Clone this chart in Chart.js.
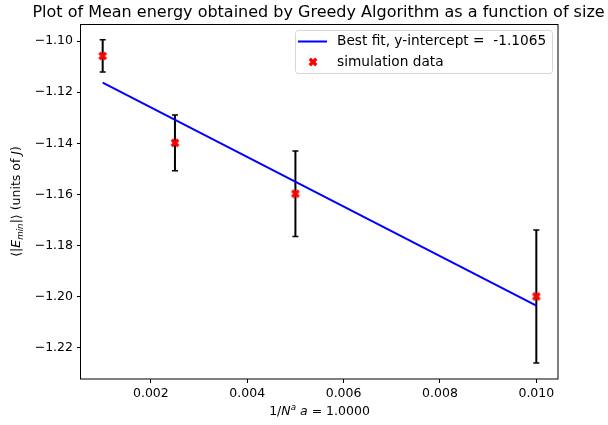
<!DOCTYPE html>
<html>
<head>
<meta charset="utf-8">
<script src="https://cdn.jsdelivr.net/npm/chart.js@4.4.1/dist/chart.umd.min.js"></script>
<style>
  html, body { margin: 0; padding: 0; background: #fff; }
</style>
</head>
<body>
<canvas id="myChart" width="608" height="425"></canvas>
<script>
// data
const sizeX = [0.001, 0.0025, 0.005, 0.01];
const meanEnergy = [-1.1058, -1.1398, -1.1597, -1.1999];
const energyErr = [0.0063, 0.0109, 0.0167, 0.0260];
const fitX = [0.001, 0.01];
const fitY = [-1.1162, -1.2035];
const xTicks = [0.002, 0.004, 0.006, 0.008, 0.010];
const yTicks = [-1.10, -1.12, -1.14, -1.16, -1.18, -1.20, -1.22];

const titleText = 'Plot of Mean energy obtained by Greedy Algorithm as a function of size';
const fitLabel = 'Best fit, y-intercept =  -1.1065';
const dataLabel = 'simulation data';

const FONT = '"DejaVu Sans", Verdana, sans-serif';
Chart.defaults.font.family = FONT;
Chart.defaults.font.size = 12.5;
Chart.defaults.color = '#000';

// filled X marker like matplotlib 'X'
function xMarker(size, color) {
  const c = document.createElement('canvas');
  c.width = size; c.height = size;
  const g = c.getContext('2d');
  g.translate(size / 2, size / 2);
  g.rotate(Math.PI / 4);
  g.fillStyle = color;
  const arm = size * 0.46, w = size * 0.16;
  g.fillRect(-arm, -w, arm * 2, w * 2);
  g.fillRect(-w, -arm, w * 2, arm * 2);
  return c;
}
const redX = xMarker(10, '#ff0000');

// text with italic / sub / superscript pieces
function drawRich(ctx, parts, cx, baseY, size) {
  const fontOf = p => (p.it ? 'italic ' : '') + (size * (p.s || 1)) + 'px ' + FONT;
  let total = 0;
  parts.forEach(p => { ctx.font = fontOf(p); total += ctx.measureText(p.t).width; });
  let x = cx - total / 2;
  ctx.textAlign = 'left';
  ctx.textBaseline = 'alphabetic';
  parts.forEach(p => {
    ctx.font = fontOf(p);
    ctx.fillText(p.t, x, baseY + (p.dy || 0));
    x += ctx.measureText(p.t).width;
  });
}

const decorPlugin = {
  id: 'decor',
  beforeDatasetDraw(chart, args) {
    if (args.index !== 1) return;
    const ctx = chart.ctx, xs = chart.scales.x, ys = chart.scales.y;
    ctx.save();
    ctx.strokeStyle = '#000';
    sizeX.forEach((v, i) => {
      const px = xs.getPixelForValue(v);
      const top = ys.getPixelForValue(meanEnergy[i] + energyErr[i]);
      const bot = ys.getPixelForValue(meanEnergy[i] - energyErr[i]);
      ctx.lineWidth = 2;
      ctx.beginPath();
      ctx.moveTo(px, top); ctx.lineTo(px, bot);
      ctx.stroke();
      ctx.lineWidth = 1.5;
      ctx.beginPath();
      ctx.moveTo(px - 3, top); ctx.lineTo(px + 3, top);
      ctx.moveTo(px - 3, bot); ctx.lineTo(px + 3, bot);
      ctx.stroke();
    });
    ctx.restore();
  },
  afterDraw(chart) {
    const ctx = chart.ctx, a = chart.chartArea;
    ctx.save();
    // axes box
    ctx.strokeStyle = '#000';
    ctx.lineWidth = 1;
    ctx.strokeRect(Math.round(a.left) - 0.5, Math.round(a.top) + 0.5,
      Math.round(a.right - a.left) + 0.5, Math.round(a.bottom - a.top) - 0.5);

    const cx = (a.left + a.right) / 2;
    // title
    ctx.fillStyle = '#000';
    ctx.font = '16px ' + FONT;
    ctx.textAlign = 'center';
    ctx.textBaseline = 'alphabetic';
    ctx.fillText(titleText, cx - 1, 16.5);

    // x label
    drawRich(ctx, [
      { t: '1/' }, { t: 'N', it: true }, { t: 'a', it: true, s: 0.7, dy: -5 },
      { t: ' ' }, { t: 'a', it: true }, { t: ' = 1.0000' }
    ], cx, 415, 12.5);

    // y label
    ctx.save();
    ctx.translate(20, (a.top + a.bottom) / 2);
    ctx.rotate(-Math.PI / 2);
    drawRich(ctx, [
      { t: '⟨|' }, { t: 'E', it: true }, { t: 'min', it: true, s: 0.7, dy: 3 },
      { t: '|⟩ (units of ' }, { t: 'J', it: true }, { t: ')' }
    ], 0, 0, 12.5);
    ctx.restore();

    // legend
    const lx = 295, ly = 30, lw = 257, lh = 43;
    ctx.beginPath();
    ctx.roundRect(lx + 0.5, ly + 0.5, lw, lh, 3);
    ctx.fillStyle = 'rgba(255,255,255,0.8)';
    ctx.fill();
    ctx.strokeStyle = '#d6d6d6';
    ctx.lineWidth = 1;
    ctx.stroke();
    ctx.strokeStyle = '#0000ff';
    ctx.lineWidth = 2;
    ctx.beginPath();
    ctx.moveTo(298, 41.5); ctx.lineTo(327, 41.5);
    ctx.stroke();
    ctx.drawImage(redX, 313 - 5, 62 - 5);
    ctx.fillStyle = '#000';
    ctx.font = '13.7px ' + FONT;
    ctx.textAlign = 'left';
    ctx.textBaseline = 'middle';
    ctx.fillText(fitLabel, 337, 41.5);
    ctx.fillText(dataLabel, 337, 62);
    ctx.restore();
  }
};

const tickGrid = {
  display: true,
  drawOnChartArea: false,
  drawTicks: true,
  tickLength: 4,
  tickColor: '#000',
  tickWidth: 1
};

const config = {
  type: 'scatter',
  data: {
    datasets: [{
      type: 'line',
      label: fitLabel,
      data: fitX.map((x, i) => ({ x: x, y: fitY[i] })),
      borderColor: '#0000ff',
      borderWidth: 2,
      pointRadius: 0,
      fill: false
    }, {
      label: dataLabel,
      data: sizeX.map((x, i) => ({ x: x, y: meanEnergy[i] })),
      pointStyle: redX,
      pointRadius: 5
    }]
  },
  options: {
    responsive: false,
    animation: false,
    layout: { padding: { left: 0, right: 50, top: 24, bottom: 0 } },
    plugins: {
      legend: { display: false },
      title: { display: false },
      tooltip: { enabled: false }
    },
    scales: {
      x: {
        type: 'linear',
        min: 0.00055,
        max: 0.01045,
        afterBuildTicks: s => { s.ticks = xTicks.map(v => ({ value: v })); },
        afterFit: s => { s.height = 46; },
        ticks: {
          autoSkip: false,
          maxRotation: 0,
          padding: 3,
          callback: v => v.toFixed(3)
        },
        grid: tickGrid,
        border: { display: false }
      },
      y: {
        min: -1.2322,
        max: -1.0933,
        afterBuildTicks: s => { s.ticks = yTicks.map(v => ({ value: v })); },
        afterFit: s => { s.width = 81; },
        ticks: {
          autoSkip: false,
          padding: 4,
          callback: v => v.toFixed(2).replace('-', '\u2212')
        },
        grid: tickGrid,
        border: { display: false }
      }
    }
  },
  plugins: [decorPlugin]
};

const myChart = new Chart(document.getElementById('myChart'), config);
</script>
</body>
</html>
